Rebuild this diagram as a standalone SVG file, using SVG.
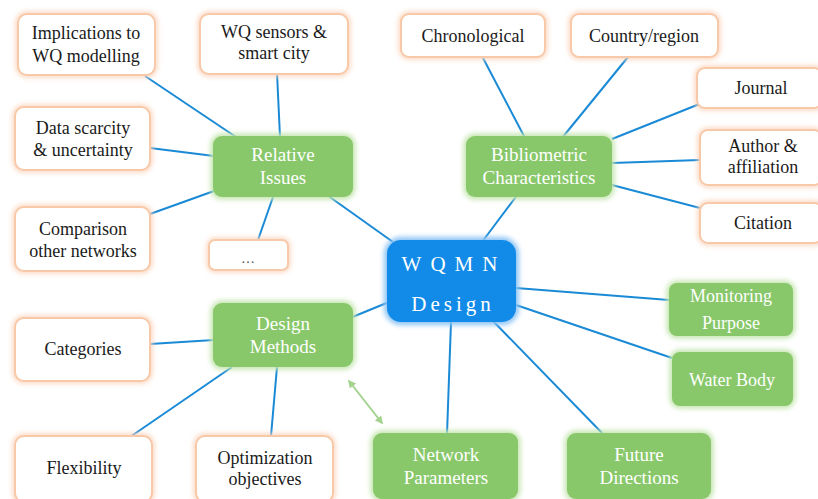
<svg xmlns="http://www.w3.org/2000/svg" width="818" height="499" viewBox="0 0 818 499">
<defs>
<filter id="glow" x="-20%" y="-30%" width="140%" height="160%">
<feGaussianBlur in="SourceGraphic" stdDeviation="2.5"/>
</filter>
<marker id="ga" viewBox="0 0 10 10" refX="8" refY="5" markerWidth="4" markerHeight="4" orient="auto-start-reverse">
<path d="M0,0 L10,5 L0,10 z" fill="#a3d38e"/>
</marker>
</defs>
<style>
.wg{fill:none;stroke:#fbd5bd;stroke-width:5;filter:url(#glow)}
.w{fill:#fff;stroke:#f8c9a8;stroke-width:2}
.gg{fill:#c5e6b0;stroke:#c5e6b0;stroke-width:5;filter:url(#glow)}
.g{fill:#88c86a;stroke:none}
.bg{fill:#8cc4f5;stroke:#8cc4f5;stroke-width:6;filter:url(#glow)}
.b{fill:#118ae8}
.tw{font-size:18px;fill:#1a1a1a;text-anchor:middle}
.tg{font-size:19px;fill:#fff;text-anchor:middle}
.tb{font-size:21px;fill:#fff;text-anchor:middle}
.c line{stroke:#1a8ad6;stroke-width:2}
</style>
<g font-family="'Liberation Serif', 'DejaVu Serif', Tinos, 'Times New Roman', Times, serif">
<g class="c" id="connectors">
<line x1="145" y1="76" x2="236" y2="137"/>
<line x1="277" y1="73" x2="280" y2="137"/>
<line x1="150" y1="148" x2="214" y2="156"/>
<line x1="150" y1="214" x2="214" y2="191"/>
<line x1="273" y1="197" x2="258" y2="240"/>
<line x1="327" y1="195" x2="393" y2="242"/>
<line x1="483" y1="58" x2="525" y2="138"/>
<line x1="628" y1="57" x2="562" y2="138"/>
<line x1="612" y1="139" x2="702" y2="103"/>
<line x1="612" y1="163" x2="700" y2="160"/>
<line x1="612" y1="185" x2="700" y2="208"/>
<line x1="518" y1="194" x2="482" y2="242"/>
<line x1="150" y1="344" x2="214" y2="340"/>
<line x1="130" y1="437" x2="232" y2="367"/>
<line x1="277" y1="367" x2="271" y2="436"/>
<line x1="350" y1="318" x2="389" y2="302"/>
<line x1="451" y1="322" x2="447" y2="434"/>
<line x1="492" y1="320" x2="603" y2="434"/>
<line x1="516" y1="305" x2="672" y2="358"/>
<line x1="516" y1="288" x2="669" y2="300"/>
<line x1="349" y1="381" x2="382" y2="423" style="stroke:#a3d38e;stroke-width:2" marker-start="url(#ga)" marker-end="url(#ga)"/>
</g>
<g id="center">
<rect class="bg" x="387" y="240" width="129" height="82" rx="14"/>
<rect class="b" x="387" y="240" width="129" height="82" rx="14"/>
<text class="tb" x="454" y="271" style="letter-spacing:9px">WQMN</text>
<text class="tb" x="453" y="311" style="letter-spacing:4px">Design</text>
</g>
<g id="relative-issues">
<rect class="gg" x="213" y="136" width="140" height="61" rx="9"/>
<rect class="g" x="213" y="136" width="140" height="61" rx="9"/>
<text class="tg" x="283" y="161">Relative</text>
<text class="tg" x="283" y="184">Issues</text>
</g>
<g id="bibliometric">
<rect class="gg" x="466" y="136" width="146" height="61" rx="9"/>
<rect class="g" x="466" y="136" width="146" height="61" rx="9"/>
<text class="tg" x="539" y="161">Bibliometric</text>
<text class="tg" x="539" y="184">Characteristics</text>
</g>
<g id="design-methods">
<rect class="gg" x="213" y="303" width="140" height="64" rx="9"/>
<rect class="g" x="213" y="303" width="140" height="64" rx="9"/>
<text class="tg" x="283" y="330">Design</text>
<text class="tg" x="283" y="353">Methods</text>
</g>
<g id="network-parameters">
<rect class="gg" x="373" y="433" width="145" height="66" rx="9"/>
<rect class="g" x="373" y="433" width="145" height="66" rx="9"/>
<text class="tg" x="446" y="461">Network</text>
<text class="tg" x="446" y="484">Parameters</text>
</g>
<g id="future-directions">
<rect class="gg" x="567" y="433" width="144" height="66" rx="9"/>
<rect class="g" x="567" y="433" width="144" height="66" rx="9"/>
<text class="tg" x="639" y="461">Future</text>
<text class="tg" x="639" y="484">Directions</text>
</g>
<g id="monitoring-purpose">
<rect class="gg" x="669" y="283" width="124" height="53" rx="8"/>
<rect class="g" x="669" y="283" width="124" height="53" rx="8"/>
<text class="tg" x="731" y="302" style="font-size:18px">Monitoring</text>
<text class="tg" x="731" y="329" style="font-size:18px">Purpose</text>
</g>
<g id="water-body">
<rect class="gg" x="672" y="352" width="121" height="54" rx="8"/>
<rect class="g" x="672" y="352" width="121" height="54" rx="8"/>
<text class="tg" x="732" y="386" style="font-size:18px">Water Body</text>
</g>
<g id="implications">
<rect class="wg" x="18" y="14" width="137" height="61" rx="9"/>
<rect class="w" x="18" y="14" width="137" height="61" rx="9"/>
<text class="tw" x="86" y="39">Implications to</text>
<text class="tw" x="86" y="62">WQ modelling</text>
</g>
<g id="wq-sensors">
<rect class="wg" x="200" y="14" width="148" height="60" rx="9"/>
<rect class="w" x="200" y="14" width="148" height="60" rx="9"/>
<text class="tw" x="274" y="38">WQ sensors &amp;</text>
<text class="tw" x="274" y="59">smart city</text>
</g>
<g id="data-scarcity">
<rect class="wg" x="15" y="107" width="135" height="63" rx="9"/>
<rect class="w" x="15" y="107" width="135" height="63" rx="9"/>
<text class="tw" x="83" y="134">Data scarcity</text>
<text class="tw" x="83" y="156">&amp; uncertainty</text>
</g>
<g id="comparison">
<rect class="wg" x="15" y="207" width="135" height="64" rx="9"/>
<rect class="w" x="15" y="207" width="135" height="64" rx="9"/>
<text class="tw" x="83" y="235">Comparison</text>
<text class="tw" x="83" y="257">other networks</text>
</g>
<g id="ellipsis">
<rect class="wg" x="209" y="240" width="79" height="30" rx="6"/>
<rect class="w" x="209" y="240" width="79" height="30" rx="6"/>
<text class="tw" x="248" y="263" style="font-size:14px;fill:#555">…</text>
</g>
<g id="chronological">
<rect class="wg" x="401" y="14" width="144" height="43" rx="8"/>
<rect class="w" x="401" y="14" width="144" height="43" rx="8"/>
<text class="tw" x="473" y="42">Chronological</text>
</g>
<g id="country">
<rect class="wg" x="571" y="14" width="147" height="43" rx="8"/>
<rect class="w" x="571" y="14" width="147" height="43" rx="8"/>
<text class="tw" x="644" y="42">Country/region</text>
</g>
<g id="journal">
<rect class="wg" x="697" y="68" width="125" height="40" rx="8"/>
<rect class="w" x="697" y="68" width="125" height="40" rx="8"/>
<text class="tw" x="761" y="94">Journal</text>
</g>
<g id="author">
<rect class="wg" x="700" y="130" width="122" height="55" rx="8"/>
<rect class="w" x="700" y="130" width="122" height="55" rx="8"/>
<text class="tw" x="763" y="152">Author &amp;</text>
<text class="tw" x="763" y="173">affiliation</text>
</g>
<g id="citation">
<rect class="wg" x="700" y="203" width="122" height="40" rx="8"/>
<rect class="w" x="700" y="203" width="122" height="40" rx="8"/>
<text class="tw" x="763" y="229">Citation</text>
</g>
<g id="categories">
<rect class="wg" x="15" y="318" width="135" height="63" rx="9"/>
<rect class="w" x="15" y="318" width="135" height="63" rx="9"/>
<text class="tw" x="83" y="355">Categories</text>
</g>
<g id="flexibility">
<rect class="wg" x="15" y="436" width="137" height="66" rx="9"/>
<rect class="w" x="15" y="436" width="137" height="66" rx="9"/>
<text class="tw" x="84" y="474">Flexibility</text>
</g>
<g id="optimization">
<rect class="wg" x="196" y="436" width="137" height="66" rx="9"/>
<rect class="w" x="196" y="436" width="137" height="66" rx="9"/>
<text class="tw" x="265" y="464">Optimization</text>
<text class="tw" x="265" y="485">objectives</text>
</g>
</g>
</svg>
